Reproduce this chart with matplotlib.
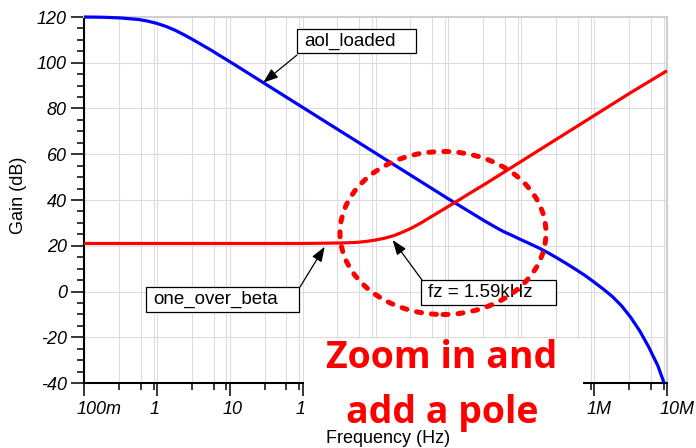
import numpy as np
import matplotlib
matplotlib.use("Agg")
import matplotlib.pyplot as plt
import matplotlib.transforms as mtransforms
from matplotlib.font_manager import FontProperties
from matplotlib.patches import Ellipse, Rectangle
from matplotlib.ticker import FixedLocator, FixedFormatter, MultipleLocator

plt.rcParams["axes.unicode_minus"] = False

# ---- data -------------------------------------------------------------
# open-loop gain of the loaded op amp (dB)
aol_freq = [0.1, 0.178, 0.316, 0.562, 0.75, 1.0, 1.33, 1.78, 2.37, 3.16, 4.22,
            5.62, 7.5, 10, 17.8, 31.6, 100, 316, 1e3, 3.16e3, 1e4, 3.16e4,
            4.22e4, 5.62e4, 7.5e4, 1e5, 1.33e5, 1.78e5, 2.37e5, 3.16e5, 4.22e5,
            5.62e5, 7.5e5, 1e6, 1.33e6, 1.78e6, 2.37e6, 3.16e6, 4.22e6, 5.62e6,
            7.5e6, 9.12e6]
aol_gain = [120.0, 119.9, 119.6, 118.9, 118.2, 117.2, 115.9, 114.2, 112.2,
            110.0, 107.7, 105.4, 102.9, 100.5, 95.5, 90.5, 80.5, 70.5, 60.5,
            50.5, 40.5, 30.8, 28.5, 26.3, 24.5, 22.6, 20.8, 18.9, 16.8, 14.5,
            12.1, 9.6, 7.0, 4.1, 1.1, -2.2, -6.2, -11.2, -17.2, -24.3, -32.5,
            -40.0]

# noise gain 1/beta (dB)
beta_freq = [0.1, 1, 10, 100, 316, 422, 562, 750, 1e3, 1.33e3, 1.78e3, 2.37e3,
             3.16e3, 4.22e3, 5.62e3, 7.5e3, 1e4, 1.33e4, 1.78e4, 2.37e4,
             3.16e4, 1e5, 3.16e5, 1e6, 3.16e6, 1e7]
beta_gain = [21.0, 21.0, 21.0, 21.0, 21.2, 21.3, 21.5, 21.9, 22.5, 23.3, 24.4,
             26.0, 27.8, 30.0, 32.4, 34.8, 37.2, 39.6, 42.1, 44.5, 46.9, 56.9,
             66.9, 76.9, 86.9, 96.5]

FZ = 1.59e3          # zero frequency of 1/beta (Hz)
AOL_MARK = 28.8      # where the aol_loaded label points (Hz)
BETA_MARK = 215.0    # where the one_over_beta label points (Hz)

x_ticks = [0.1, 1, 10, 100, 1e3, 1e4, 1e5, 1e6, 1e7]
x_labels = ["100m", "1", "10", "100", "", "", "", "1M", "10M"]
y_ticks = [-40, -20, 0, 20, 40, 60, 80, 100, 120]

# ---- figure -----------------------------------------------------------
W, H = 696, 448
DPI = 100


def fx(px):
    return px / W


def fy(py):
    return 1 - py / H


fig = plt.figure(figsize=(W / DPI, H / DPI), dpi=DPI)
fig.patch.set_facecolor("white")
ax = fig.add_axes([fx(84), fy(383), (667 - 84) / W, (383 - 17) / H])

BLUE = "#0000ff"
RED = "#ff0000"

ax.plot(aol_freq, aol_gain, color=BLUE, lw=2.3, zorder=4, clip_on=False,
        solid_capstyle="butt")
ax.plot(beta_freq, beta_gain, color=RED, lw=2.3, zorder=4, clip_on=False,
        solid_capstyle="butt")

ax.set_xscale("log")
ax.set_xlim(0.1, 1e7)
ax.set_ylim(-40, 120)

minor = [m * d for d in [0.1, 1, 10, 100, 1e3, 1e4, 1e5, 1e6] for m in (3, 6, 9)]
ax.xaxis.set_major_locator(FixedLocator(x_ticks))
ax.xaxis.set_major_formatter(FixedFormatter(x_labels))
ax.xaxis.set_minor_locator(FixedLocator(minor))
ax.xaxis.set_minor_formatter(FixedFormatter([""] * len(minor)))
ax.yaxis.set_major_locator(FixedLocator(y_ticks))
ax.yaxis.set_minor_locator(MultipleLocator(5))

GRID = "#dcdcdc"
ax.grid(True, which="both", axis="x", color=GRID, lw=0.8, zorder=0)
ax.grid(True, which="major", axis="y", color=GRID, lw=0.8, zorder=0)
ax.set_axisbelow(True)

for side in ("left", "bottom"):
    ax.spines[side].set_color("black")
    ax.spines[side].set_linewidth(1.5)
for side in ("top", "right"):
    ax.spines[side].set_color("#cfcfcf")
    ax.spines[side].set_linewidth(1.5)

ax.tick_params(which="major", direction="out", length=9.4, width=1.1,
               color="black", top=False, right=False)
ax.tick_params(which="minor", direction="out", length=4.7, width=1.1,
               color="black", top=False, right=False)
ax.tick_params(axis="x", which="major", pad=3.5)
ax.tick_params(axis="y", which="major", pad=3)

tick_font = FontProperties(family=["Liberation Sans", "DejaVu Sans"],
                           style="italic", size=13)
for lab in ax.get_xticklabels() + ax.get_yticklabels():
    lab.set_fontproperties(tick_font)
shift = mtransforms.ScaledTranslation(-7.5 / DPI, 0, fig.dpi_scale_trans)
for lab in ax.get_xticklabels():
    lab.set_horizontalalignment("left")
    lab.set_transform(lab.get_transform() + shift)

label_font = dict(family=["Liberation Sans", "DejaVu Sans"], size=13)
fig.text(fx(388), fy(442.7), "Frequency (Hz)", ha="center", va="baseline",
         **label_font)
fig.text(fx(18.5), fy(195), "Gain (dB)", ha="center", va="center",
         rotation=90, **label_font)

# ---- callouts ---------------------------------------------------------


def callout(text, box, tail, target, shrink):
    x0, y0, x1, y1 = box
    fig.add_artist(Rectangle((fx(x0), fy(y1)), (x1 - x0) / W, (y1 - y0) / H,
                             transform=fig.transFigure, facecolor="white",
                             edgecolor="black", lw=0.9, zorder=5))
    fig.text(fx(x0 + 7), fy(y0 + 17.3), text, ha="left", va="baseline",
             zorder=6, size=13.5, family=["Liberation Sans", "DejaVu Sans"])
    ax.annotate("", xy=target, xycoords="data",
                xytext=(tail[0], H - tail[1]), textcoords="figure pixels",
                annotation_clip=False, zorder=6,
                arrowprops=dict(arrowstyle="-|>,head_length=0.6,head_width=0.22",
                                mutation_scale=15, color="black", lw=0.9,
                                shrinkA=0, shrinkB=shrink))


def on_curve(freqs, gains, f):
    return f, float(np.interp(np.log10(f), np.log10(freqs), gains))


callout("aol_loaded", (297, 29, 416, 53), (297, 55),
        on_curve(aol_freq, aol_gain, AOL_MARK), 0)
callout("one_over_beta", (146, 287, 299, 312), (300, 287),
        on_curve(beta_freq, beta_gain, BETA_MARK), 3)
callout("fz = 1.59kHz", (421, 280, 556, 305), (422, 280),
        on_curve(beta_freq, beta_gain, FZ), 3)

# dashed circle around the crossover region
ring = Ellipse((fx(443), fy(233)), 206 / W, 163 / H, transform=fig.transFigure,
               fill=False, edgecolor=RED, lw=3.6, zorder=7,
               linestyle=(0, (1.0, 2.0)))
ring.set_capstyle("round")
fig.add_artist(ring)

# ---- headline ---------------------------------------------------------
fig.add_artist(Rectangle((fx(304), fy(428)), (583 - 304) / W, (428 - 339) / H,
                         transform=fig.transFigure, facecolor="white",
                         edgecolor="none", zorder=8))
head_font = dict(family=["Open Sans", "DejaVu Sans"], weight="bold", size=27,
                 color=RED, ha="center", va="baseline", zorder=9)
fig.text(fx(442), fy(368.3), "Zoom in and", **head_font)
fig.text(fx(442), fy(422.7), "add a pole", **head_font)

fig.savefig("out.png", dpi=DPI, facecolor="white")
